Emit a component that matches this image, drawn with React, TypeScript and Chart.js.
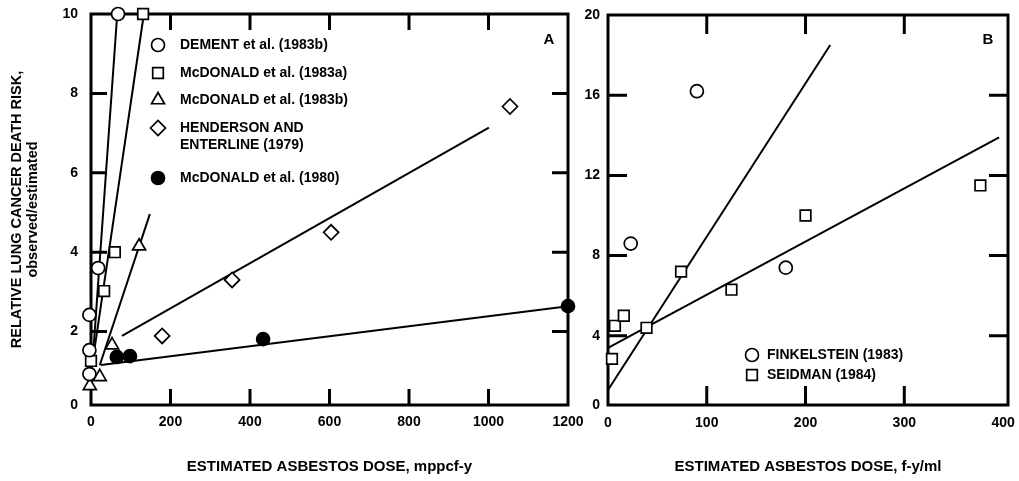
import React, { useEffect, useRef } from "react";
import { Chart, registerables } from "chart.js";

Chart.register(...registerables);

const FONT = "'Liberation Sans', Arial, Helvetica, sans-serif";

// ---------------- Panel A (mppcf-y) ----------------
const X_TICKS_A = [0, 200, 400, 600, 800, 1000, 1200];
const Y_TICKS_A = [0, 2, 4, 6, 8, 10];

const DEMENT_X = [68, 18, -4, -4, -4];
const DEMENT_Y = [10, 3.6, 2.42, 1.53, 0.93];
const DEMENT_FIT_X = [3, 66];
const DEMENT_FIT_Y = [1.1, 10];

const MCD83A_X = [131, 60, 33, 0];
const MCD83A_Y = [10, 4.0, 3.02, 1.26];
const MCD83A_FIT_X = [2, 133];
const MCD83A_FIT_Y = [1.1, 10];

const MCD83B_X = [121, 53, 22, -3];
const MCD83B_Y = [4.15, 1.66, 0.86, 0.63];
const MCD83B_FIT_X = [22, 148];
const MCD83B_FIT_Y = [1.15, 4.96];

const HENDERSON_X = [179, 355, 604, 1054];
const HENDERSON_Y = [1.89, 3.3, 4.5, 7.67];
const HENDERSON_FIT_X = [78, 1001];
const HENDERSON_FIT_Y = [1.89, 7.14];

const MCD80_X = [65, 98, 433, 1200];
const MCD80_Y = [1.36, 1.38, 1.81, 2.64];
const MCD80_FIT_X = [25, 1200];
const MCD80_FIT_Y = [1.16, 2.64];

const LABELS_A = [
  "DEMENT et al. (1983b)",
  "McDONALD et al. (1983a)",
  "McDONALD et al. (1983b)",
  "HENDERSON AND\nENTERLINE (1979)",
  "McDONALD et al. (1980)",
];
const X_TITLE_A = "ESTIMATED ASBESTOS DOSE, mppcf-y";
const Y_TITLE_A = ["RELATIVE LUNG CANCER DEATH RISK,", "observed/estimated"];

// ---------------- Panel B (f-y/ml) ----------------
const X_TICKS_B = [0, 100, 200, 300, 400];
const Y_TICKS_B = [0, 4, 8, 12, 16, 20];

const FINKEL_X = [23, 90, 180];
const FINKEL_Y = [8.6, 16.2, 7.4];
const SEIDMAN_X = [4, 7, 16, 39, 74, 125, 200, 377];
const SEIDMAN_Y = [2.85, 4.5, 5.0, 4.4, 7.2, 6.3, 10.0, 11.5];
const FIT_STEEP_X = [0, 225];
const FIT_STEEP_Y = [1.3, 18.5];
const FIT_SHALLOW_X = [0, 396];
const FIT_SHALLOW_Y = [3.4, 13.9];

const LABELS_B = ["FINKELSTEIN (1983)", "SEIDMAN (1984)"];
const X_TITLE_B = "ESTIMATED ASBESTOS DOSE, f-y/ml";

// ---------------- helpers ----------------
const pts = (xs: number[], ys: number[]) => xs.map((x, i) => ({ x, y: ys[i] }));

function markers(label: string, xs: number[], ys: number[], style: string, r: number, fill = "#fff") {
  return {
    label,
    data: pts(xs, ys),
    showLine: false,
    pointStyle: style,
    pointRadius: r,
    pointBorderWidth: 1.7,
    pointBorderColor: "#000",
    pointBackgroundColor: fill,
    clip: false,
    order: 0,
    isMarker: true,
  };
}

function fit(xs: number[], ys: number[]) {
  return {
    label: "fit",
    data: pts(xs, ys),
    showLine: true,
    borderColor: "#000",
    borderWidth: 2,
    pointRadius: 0,
    clip: false,
    order: 1,
  };
}

function drawMarker(ctx: CanvasRenderingContext2D, style: string, x: number, y: number, r: number, fill: string) {
  ctx.beginPath();
  if (style === "circle") ctx.arc(x, y, r, 0, Math.PI * 2);
  else if (style === "rect") {
    const s = r * Math.SQRT1_2;
    ctx.rect(x - s, y - s, 2 * s, 2 * s);
  } else if (style === "triangle") {
    ctx.moveTo(x, y - r);
    ctx.lineTo(x + 0.866 * r, y + 0.5 * r);
    ctx.lineTo(x - 0.866 * r, y + 0.5 * r);
    ctx.closePath();
  } else if (style === "rectRot") {
    ctx.moveTo(x - r, y);
    ctx.lineTo(x, y - r);
    ctx.lineTo(x + r, y);
    ctx.lineTo(x, y + r);
    ctx.closePath();
  }
  ctx.fillStyle = fill;
  ctx.fill();
  ctx.strokeStyle = "#000";
  ctx.lineWidth = 1.7;
  ctx.stroke();
}

const framePlugin = {
  id: "frame",
  beforeDatasetsDraw(chart: any, _a: any, opts: any) {
    const { ctx, chartArea: a, scales } = chart;
    ctx.save();
    ctx.strokeStyle = "#000";
    ctx.lineWidth = opts.lineWidth;
    ctx.lineCap = "square";
    ctx.strokeRect(a.left, a.top, a.right - a.left, a.bottom - a.top);
    ctx.lineWidth = opts.tickWidth;
    ctx.lineCap = "butt";
    const L = opts.tickLength;
    for (const t of scales.x.ticks) {
      const p = scales.x.getPixelForValue(t.value);
      if (p < a.left + 12 || p > a.right - 12) continue;
      ctx.beginPath();
      ctx.moveTo(p, a.bottom);
      ctx.lineTo(p, a.bottom - L);
      ctx.moveTo(p, a.top);
      ctx.lineTo(p, a.top + L);
      ctx.stroke();
    }
    for (const t of scales.y.ticks) {
      const p = scales.y.getPixelForValue(t.value);
      if (p < a.top + 12 || p > a.bottom - 12) continue;
      ctx.beginPath();
      ctx.moveTo(a.left, p);
      ctx.lineTo(a.left + L, p);
      ctx.moveTo(a.right, p);
      ctx.lineTo(a.right - L, p);
      ctx.stroke();
    }
    ctx.restore();
  },
};

const legendPlugin = {
  id: "panelLegend",
  afterDraw(chart: any, _a: any, opts: any) {
    const ctx = chart.ctx;
    ctx.save();
    ctx.font = `bold 14px ${FONT}`;
    ctx.textBaseline = "middle";
    ctx.textAlign = "left";
    const ds = chart.data.datasets.filter((d: any) => d.isMarker);
    ds.forEach((d: any, i: number) => {
      const y = opts.rows[i];
      drawMarker(ctx, d.pointStyle, opts.markerX, y, d.pointRadius, d.pointBackgroundColor);
      ctx.fillStyle = "#000";
      String(d.label)
        .split("\n")
        .forEach((line: string, j: number) => ctx.fillText(line, opts.textX, y + j * 17));
    });
    ctx.font = `bold 15px ${FONT}`;
    ctx.textAlign = "center";
    ctx.fillText(opts.letter, opts.letterX, opts.letterY);
    ctx.restore();
  },
};

function axis(min: number, max: number, ticks: number[], padding: number, fitKey: "width" | "height", fitVal: number, title?: any) {
  return {
    type: "linear",
    min,
    max,
    afterBuildTicks: (s: any) => {
      s.ticks = ticks.map((v) => ({ value: Math.max(v, min) }));
    },
    afterFit: (s: any) => {
      s[fitKey] = fitVal;
      s.paddingLeft = 0;
      s.paddingRight = 0;
      s.paddingTop = 0;
      s.paddingBottom = 0;
    },
    grid: { display: false, drawTicks: false },
    border: { display: false },
    ticks: {
      padding,
      color: "#000",
      font: { family: FONT, size: 14, weight: "bold" },
      maxRotation: 0,
      autoSkip: false,
      callback: (_v: any, i: number) => String(ticks[i]),
    },
    title: title || { display: false },
  };
}

export default function App() {
  const refA = useRef<HTMLCanvasElement>(null);
  const refB = useRef<HTMLCanvasElement>(null);

  useEffect(() => {
    const chartA = new Chart(refA.current as HTMLCanvasElement, {
      type: "scatter",
      data: {
        datasets: [
          markers(LABELS_A[0], DEMENT_X, DEMENT_Y, "circle", 6.5),
          markers(LABELS_A[1], MCD83A_X, MCD83A_Y, "rect", 7.5),
          markers(LABELS_A[2], MCD83B_X, MCD83B_Y, "triangle", 7.5),
          markers(LABELS_A[3], HENDERSON_X, HENDERSON_Y, "rectRot", 7.5),
          markers(LABELS_A[4], MCD80_X, MCD80_Y, "circle", 6.5, "#000"),
          fit(DEMENT_FIT_X, DEMENT_FIT_Y),
          fit(MCD83A_FIT_X, MCD83A_FIT_Y),
          fit(MCD83B_FIT_X, MCD83B_FIT_Y),
          fit(HENDERSON_FIT_X, HENDERSON_FIT_Y),
          fit(MCD80_FIT_X, MCD80_FIT_Y),
        ] as any,
      },
      options: {
        animation: false,
        responsive: false,
        events: [],
        layout: { padding: { left: 0, top: 14, right: 22, bottom: 0 } },
        plugins: {
          legend: { display: false },
          tooltip: { enabled: false },
          frame: { lineWidth: 3, tickWidth: 3, tickLength: 16 },
          panelLegend: { markerX: 158, textX: 180, rows: [45, 73, 100, 128, 178], letter: "A", letterX: 549, letterY: 40 },
        } as any,
        scales: {
          x: axis(0, 1200, X_TICKS_A, 9, "height", 76, {
            display: true,
            text: X_TITLE_A,
            color: "#000",
            font: { family: FONT, size: 15, weight: "bold", lineHeight: 1.2 },
            padding: { top: 0, bottom: 5 },
          }),
          y: axis(0.15, 10, Y_TICKS_A, 13, "width", 91, {
            display: true,
            text: Y_TITLE_A,
            color: "#000",
            font: { family: FONT, size: 14.5, weight: "bold", lineHeight: 1.12 },
            padding: { top: 9, bottom: 0 },
          }),
        } as any,
      },
      plugins: [framePlugin, legendPlugin] as any,
    });

    const chartB = new Chart(refB.current as HTMLCanvasElement, {
      type: "scatter",
      data: {
        datasets: [
          markers(LABELS_B[0], FINKEL_X, FINKEL_Y, "circle", 6.5),
          markers(LABELS_B[1], SEIDMAN_X, SEIDMAN_Y, "rect", 7.5),
          fit(FIT_STEEP_X, FIT_STEEP_Y),
          fit(FIT_SHALLOW_X, FIT_SHALLOW_Y),
        ] as any,
      },
      options: {
        animation: false,
        responsive: false,
        events: [],
        layout: { padding: { left: 0, top: 15, right: 11, bottom: 0 } },
        plugins: {
          legend: { display: false },
          tooltip: { enabled: false },
          frame: { lineWidth: 3, tickWidth: 3, tickLength: 19 },
          panelLegend: { markerX: 182, textX: 197, rows: [355, 375], letter: "B", letterX: 418, letterY: 40 },
        } as any,
        scales: {
          x: axis(0, 405, X_TICKS_B, 10, "height", 76, {
            display: true,
            text: X_TITLE_B,
            color: "#000",
            font: { family: FONT, size: 15, weight: "bold", lineHeight: 1.2 },
            padding: { top: 0, bottom: 5 },
          }),
          y: axis(0.55, 20, Y_TICKS_B, 8, "width", 38),
        } as any,
      },
      plugins: [framePlugin, legendPlugin] as any,
    });

    return () => {
      chartA.destroy();
      chartB.destroy();
    };
  }, []);

  return (
    <div style={{ position: "absolute", left: 0, top: 0, width: 1019, height: 481, background: "#fff" }}>
      <canvas ref={refA} width={590} height={481} style={{ position: "absolute", left: 0, top: 0, width: 590, height: 481 }} />
      <canvas ref={refB} width={449} height={481} style={{ position: "absolute", left: 570, top: 0, width: 449, height: 481 }} />
    </div>
  );
}
